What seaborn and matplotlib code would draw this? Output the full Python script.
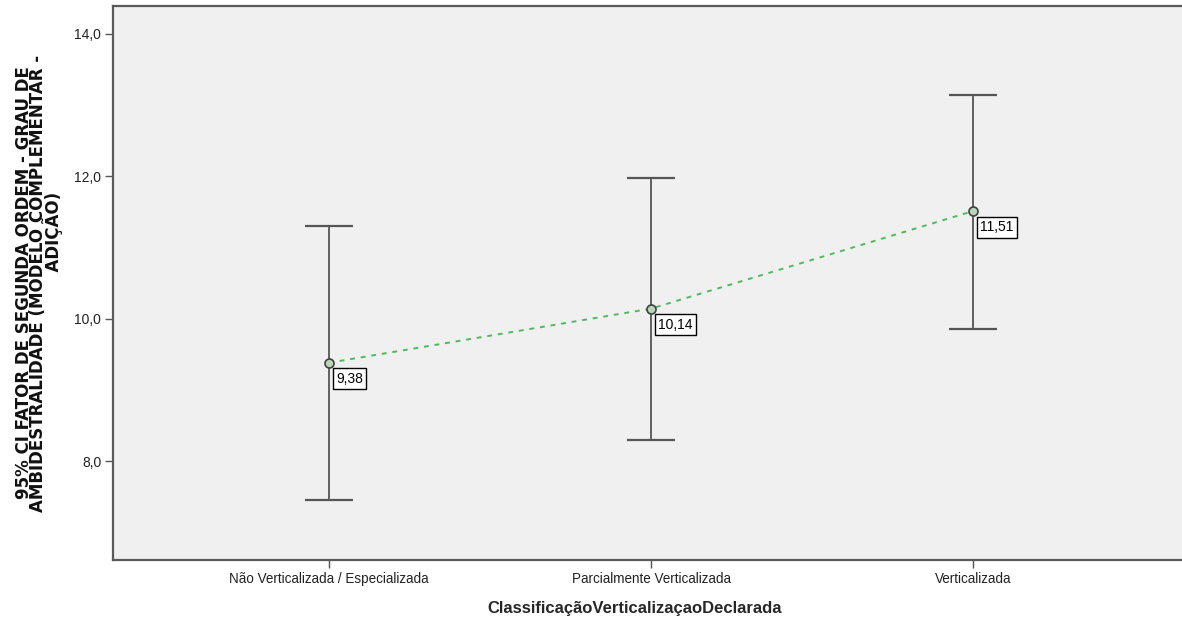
import matplotlib
matplotlib.use("Agg")
import matplotlib.pyplot as plt
import seaborn as sns
import pandas as pd

# Group means with 95% confidence limits
categories = ["Não Verticalizada / Especializada", "Parcialmente Verticalizada", "Verticalizada"]
means = [9.38, 10.14, 11.51]
ci_lower = [7.45, 8.29, 9.85]
ci_upper = [11.30, 11.97, 13.14]
y_ticks = [8.0, 10.0, 12.0, 14.0]
y_tick_labels = ["8,0", "10,0", "12,0", "14,0"]
value_labels = ["9,38", "10,14", "11,51"]
y_title_lines = ["95% CI FATOR DE SEGUNDA ORDEM - GRAU DE",
                 "AMBIDESTRALIDADE (MODELO COMPLEMENTAR -",
                 "ADIÇÃO)"]
x_title = "ClassificaçãoVerticalizaçaoDeclarada"

sns.set_theme(style="white")
plt.rcParams["font.family"] = ["Liberation Sans", "DejaVu Sans"]

df = pd.DataFrame({"cat": categories, "pos": range(len(categories)), "mean": means,
                   "lo": ci_lower, "hi": ci_upper})

W, H = 1182, 619
fig = plt.figure(figsize=(W / 100, H / 100), dpi=100)
ax = fig.add_axes([113 / W, 1 - 560 / H, 1 - 113 / W, (560 - 6) / H])
ax.set_facecolor("#f0f0f0")

# confidence interval bars
err_low = df["mean"] - df["lo"]
err_high = df["hi"] - df["mean"]
ax.errorbar(df["pos"], df["mean"], yerr=[err_low, err_high], fmt="none",
            ecolor="#555555", elinewidth=1.3, capsize=17, capthick=1.6, zorder=2)

# mean trend line
sns.lineplot(data=df, x="pos", y="mean", ax=ax, color="#4cbb5c", linewidth=1.4,
             linestyle=(0, (2.5, 3)), zorder=3)

# mean markers
ax.plot(df["pos"], df["mean"], linestyle="none", marker="o", markersize=6.5,
        markerfacecolor="#b9d6b9", markeredgecolor="#404040", markeredgewidth=1.2, zorder=4)

for x, y, lab in zip(df["pos"], df["mean"], value_labels):
    ax.annotate(lab, (x, y), xytext=(5, -6.5), textcoords="offset points",
                ha="left", va="top", fontsize=10, color="black", zorder=5,
                bbox=dict(boxstyle="square,pad=0.25", facecolor="white",
                          edgecolor="black", linewidth=1.0))

ax.set_xlim(-0.671, 2.649)
ax.set_ylim(6.61, 14.39)
ax.set_xticks(range(len(categories)))
ax.set_xticklabels(categories, fontsize=9.75)
ax.set_yticks(y_ticks)
ax.set_yticklabels(y_tick_labels, fontsize=10)
ax.tick_params(axis="both", direction="out", length=5.5, width=1, color="#555555",
               labelcolor="#222222", pad=3, bottom=True, left=True)

for side in ["left", "bottom", "top"]:
    ax.spines[side].set_color("#5a5a5a")
    ax.spines[side].set_linewidth(1.6)
ax.spines["right"].set_visible(False)

ax.set_ylabel("")
ax.set_xlabel(x_title, fontsize=12, fontweight="bold")
ax.xaxis.set_label_coords((635 - 113) / (W - 113), -0.074)

# vertical axis title as one wrapped block; the last line sits a little higher
y_title = "\n".join([y_title_lines[0], y_title_lines[1], " " * 18 + y_title_lines[2]])
fig.text(39 / W, 1 - 283 / H, y_title, rotation=90, fontsize=12, fontweight="bold",
         family=["DejaVu Sans"], color="#111111", ha="center", va="center",
         multialignment="center", linespacing=0.68)

ax.xaxis.grid(False)
ax.yaxis.grid(False)

fig.savefig("out.png", dpi=100)
